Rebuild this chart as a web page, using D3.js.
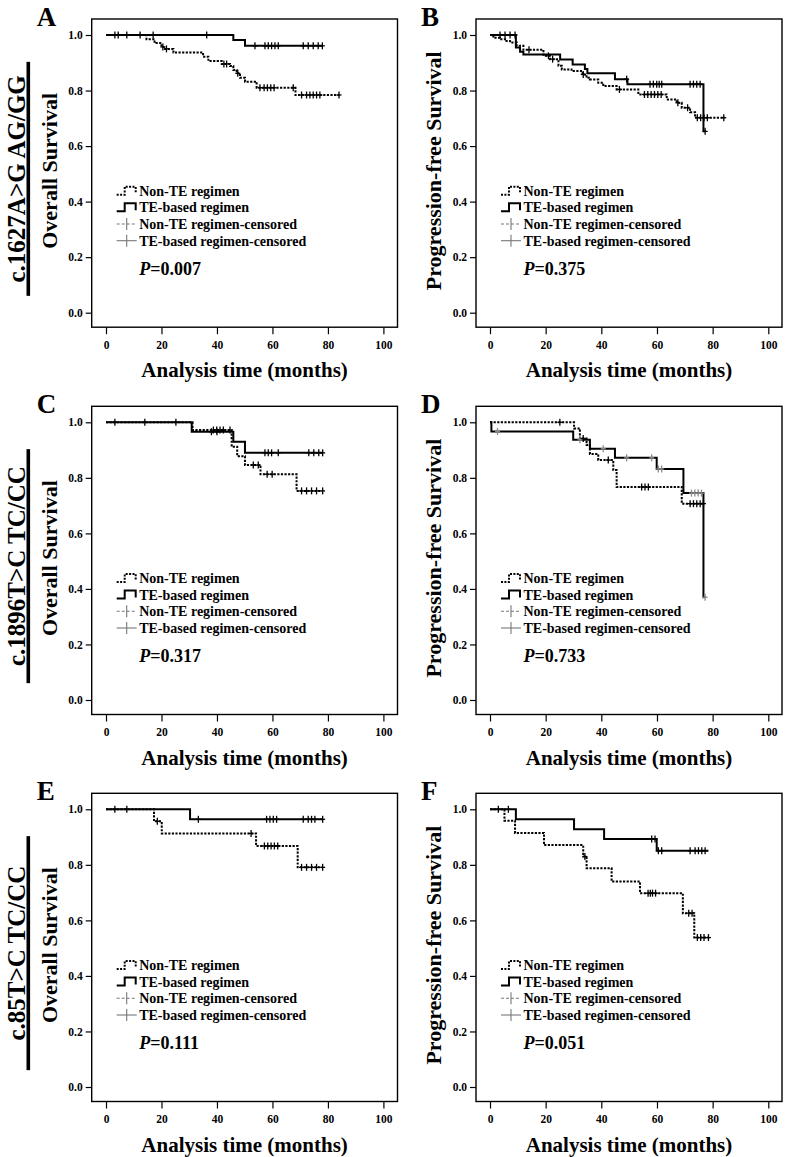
<!DOCTYPE html>
<html><head><meta charset="utf-8">
<script src="https://cdn.jsdelivr.net/npm/d3@7"></script>
<style>
body{margin:0;background:#fff}
svg{display:block}
text{font-family:"Liberation Serif","Times New Roman",serif;font-weight:bold;fill:#000}
</style>
</head><body>
<svg id="chart" width="785" height="1157"></svg>
<script>
// ---------- DATA ----------
const xTicks = [0, 20, 40, 60, 80, 100];
const yTicks = [0, 0.2, 0.4, 0.6, 0.8, 1.0];
const panelLetters = ["A", "B", "C", "D", "E", "F"];
const genotypes = ["c.1627A>G AG/GG", "c.1896T>C TC/CC", "c.85T>C TC/CC"];
const yTitles = ["Overall Survival", "Progression-free Survival"];
const xTitle = "Analysis time (months)";
const legendLabels = ["Non-TE regimen", "TE-based regimen", "Non-TE regimen-censored", "TE-based regimen-censored"];
const pValues = ["0.007", "0.375", "0.317", "0.733", "0.111", "0.051"];

// step curves: [time (months), survival after that time]
const A_nonTE = [[0,1],[14.6,0.985],[17.5,0.971],[20,0.957],[21.3,0.950],[24.3,0.937],[35,0.922],[36.9,0.906],[41.7,0.896],[44.7,0.888],[45.9,0.874],[47.1,0.862],[48.3,0.846],[50.1,0.832],[54.3,0.810],[68.3,0.784],[84,0.784]];
const A_TE = [[0,1],[45.9,0.982],[50.1,0.961],[78,0.961]];
const A_nonTE_cens = [20.5,21.8,42.5,43.5,47.5,55.5,57,58.2,59.4,60.6,67.5,70.5,72.3,73.5,74.7,75.9,77.1,84];
const A_TE_cens = [3.2,4.4,7.5,12.3,17,36.3,53.7,57.3,58.5,59.7,60.9,62.1,71.1,72.9,74.7,76.5,78];

const B_nonTE = [[0,1],[1.2,0.99],[3.6,0.985],[5.4,0.978],[7.2,0.973],[9.6,0.961],[12,0.947],[19.2,0.925],[21.6,0.913],[24.6,0.889],[25.8,0.876],[29.3,0.870],[33.3,0.858],[34.7,0.846],[35.9,0.840],[38.9,0.828],[40.7,0.816],[45.5,0.804],[53.3,0.786],[63.5,0.768],[67.1,0.756],[68.9,0.738],[71.9,0.722],[73.7,0.702],[84.2,0.702]];
const B_TE = [[0,1],[9.3,0.955],[10.8,0.94],[12,0.93],[25.2,0.912],[29.7,0.894],[34.1,0.878],[35,0.862],[44.9,0.841],[49.4,0.823],[76.7,0.653],[77.3,0.653]];
const B_nonTE_cens = [14,21,22.5,33.5,46.5,55.5,56.7,57.9,59.1,60.3,61.5,67.5,71,74.5,75.7,76.9,78.1,84];
const B_TE_cens = [3.6,5.4,7.2,9,49.1,57.5,58.7,59.9,60.8,61.7,71.9,73.1,74.3,75.5,77.3];

const C_nonTE = [[0,1],[31.2,0.972],[45.3,0.912],[47.3,0.878],[50.1,0.846],[55.7,0.813],[68.7,0.753],[78.1,0.753]];
const C_TE = [[0,1],[30.9,0.966],[45.9,0.930],[50.1,0.890],[78.1,0.890]];
const C_nonTE_cens = [38.7,39.9,41.1,42.3,44.7,53.1,54.9,58.1,59.9,70.5,72.3,74.1,75.9,78.1];
const C_TE_cens = [3.2,14,25.2,38,40,57.3,58.5,59.7,62.1,73.1,74.9,76.7,78.1];

const D_nonTE = [[0,1],[30.2,0.978],[32.3,0.942],[34.7,0.918],[35.9,0.886],[38.9,0.864],[44.3,0.828],[45.5,0.767],[68.9,0.707],[76.7,0.707]];
const D_TE = [[0,1],[0.5,0.967],[29.9,0.937],[35.9,0.905],[44.9,0.872],[59.9,0.832],[69.5,0.745],[76.7,0.37],[77.3,0.37]];
const D_nonTE_cens = [25.1,33.5,42.5,54.5,55.7,56.9,71.9,73.1,74.3,75.5,76.7];
const D_TE_cens = [2.7,32.3,40.7,49.1,58.1,60.5,61.7,72.4,73.6,74.8,76,77.3];

const E_nonTE = [[0,1],[17.3,0.957],[20.1,0.913],[54.1,0.868],[69.1,0.791],[78.1,0.791]];
const E_TE = [[0,1],[30.3,0.964],[78.1,0.964]];
const E_nonTE_cens = [18.5,52.3,57.1,58.3,59.5,60.7,61.9,70.5,72.3,74.1,75.9,78.1];
const E_TE_cens = [3.2,7.5,33.3,57.9,59.1,60.3,61.5,71.1,72.9,74.1,75.3,78.1];

const F_nonTE = [[0,1],[5.2,0.959],[9,0.915],[19.4,0.871],[33.5,0.83],[34.7,0.788],[43.7,0.74],[53.9,0.698],[69.3,0.626],[73.4,0.538],[78.5,0.538]];
const F_TE = [[0,1],[9.3,0.964],[30.2,0.928],[41,0.893],[59.9,0.851],[78.5,0.851]];
const F_nonTE_cens = [34.1,56.8,57.6,58.4,59.5,71.4,72.6,74.5,75.7,76.9,78.5];
const F_TE_cens = [3,6.6,58.1,59.3,60.5,61.7,71.9,73.7,74.9,76.1,77.3];

const panels = [
  {nonTE:A_nonTE, TE:A_TE, nc:A_nonTE_cens, tc:A_TE_cens},
  {nonTE:B_nonTE, TE:B_TE, nc:B_nonTE_cens, tc:B_TE_cens},
  {nonTE:C_nonTE, TE:C_TE, nc:C_nonTE_cens, tc:C_TE_cens},
  {nonTE:D_nonTE, TE:D_TE, nc:D_nonTE_cens, tc:D_TE_cens, greyTE:true},
  {nonTE:E_nonTE, TE:E_TE, nc:E_nonTE_cens, tc:E_TE_cens},
  {nonTE:F_nonTE, TE:F_TE, nc:F_nonTE_cens, tc:F_TE_cens}
];

// ---------- LAYOUT ----------
const svg = d3.select("#chart");
const cols = [
  {fx0:91.7, fx1:397.5, r0:106, r1:383.4},
  {fx0:476, fx1:782, r0:490, r1:768.3}
];
const rowOff = [0, 387.3, 774.3];

function survAt(steps, t){
  let s = steps[0][1];
  for (const d of steps){ if (d[0] <= t) s = d[1]; }
  return s;
}

panels.forEach((p, i) => {
  const c = cols[i % 2], r = Math.floor(i / 2), off = rowOff[r];
  const x = d3.scaleLinear().domain([0, 100]).range([c.r0, c.r1]);
  const y = d3.scaleLinear().domain([0, 1]).range([312.7 + off, 35 + off]);
  const fTop = y(1) - 16, fBot = y(0) + 14.5;
  const g = svg.append("g");

  // frame
  g.append("rect").attr("x", c.fx0).attr("y", fTop)
    .attr("width", c.fx1 - c.fx0).attr("height", fBot - fTop)
    .attr("fill", "none").attr("stroke", "#000").attr("stroke-width", 1.4);

  // axes
  const ya = g.append("g").attr("transform", `translate(${c.fx0},0)`)
    .call(d3.axisLeft(y).tickValues(yTicks).tickFormat(d3.format(".1f")).tickSize(6).tickPadding(3));
  const xa = g.append("g").attr("transform", `translate(0,${fBot})`)
    .call(d3.axisBottom(x).tickValues(xTicks).tickFormat(d3.format("d")).tickSize(7).tickPadding(4));
  [ya, xa].forEach(a => {
    a.select(".domain").remove();
    a.selectAll("line").attr("stroke", "#000").attr("stroke-width", 1.2);
    a.selectAll("text").style("font-family", '"Liberation Serif",serif')
      .style("font-weight", "bold").style("font-size", "11.5px").attr("fill", "#000");
  });
  xa.selectAll("text").attr("y", 21.6).attr("dy", 0);

  // curves
  const line = d3.line().x(d => x(d[0])).y(d => y(d[1])).curve(d3.curveStepAfter);
  g.append("path").datum(p.nonTE).attr("d", line).attr("fill", "none")
    .attr("stroke", "#000").attr("stroke-width", 2).attr("stroke-dasharray", "2.2,1.4");
  g.append("path").datum(p.TE).attr("d", line).attr("fill", "none")
    .attr("stroke", "#000").attr("stroke-width", 2);

  // censor marks
  function cens(times, steps, color){
    const cg = g.append("g").attr("stroke", color).attr("stroke-width", 1.3);
    cg.selectAll("line.v").data(times).join("line").attr("class", "v")
      .attr("x1", t => x(t)).attr("x2", t => x(t))
      .attr("y1", t => y(survAt(steps, t)) - 3.5).attr("y2", t => y(survAt(steps, t)) + 3.5);
    cg.selectAll("line.h").data(times).join("line").attr("class", "h")
      .attr("x1", t => x(t) - 2.5).attr("x2", t => x(t) + 2.5)
      .attr("y1", t => y(survAt(steps, t))).attr("y2", t => y(survAt(steps, t)));
  }
  cens(p.nc, p.nonTE, "#000");
  cens(p.tc, p.TE, p.greyTE ? "#8a8a8a" : "#000");

  // panel letter
  g.append("text").attr("x", c.fx0 - 55).attr("y", fTop + 7)
    .style("font-size", "27px").text(panelLetters[i]);

  // y title
  const yc = (y(1) + y(0)) / 2 - 3;
  g.append("text").attr("transform", `translate(${c.fx0 - 35},${yc}) rotate(-90)`)
    .attr("text-anchor", "middle").style("font-size", "22px").text(yTitles[i % 2]);

  // x title
  g.append("text").attr("x", (c.fx0 + c.fx1) / 2).attr("y", fBot + 50)
    .attr("text-anchor", "middle").style("font-size", "21px").text(xTitle);

  // legend
  const sx = c.fx0 + 25, tx = c.fx0 + 47.5;
  const lb = [117, 100.4, 83.7, 67].map(o => y(0) - o);
  legendLabels.forEach((lab, k) => {
    g.append("text").attr("x", tx).attr("y", lb[k]).style("font-size", "14px").text(lab);
  });
  const stepPath = (b) => `M${sx},${b - 1} H${sx + 8} V${b - 9} H${sx + 19} V${b - 2}`;
  g.append("path").attr("d", stepPath(lb[0])).attr("fill", "none").attr("stroke", "#000")
    .attr("stroke-width", 2).attr("stroke-dasharray", "2,1.4");
  g.append("path").attr("d", stepPath(lb[1])).attr("fill", "none").attr("stroke", "#000")
    .attr("stroke-width", 2);
  [2, 3].forEach(k => {
    const cy = lb[k] - 5;
    g.append("line").attr("x1", sx).attr("x2", sx + 20).attr("y1", cy).attr("y2", cy)
      .attr("stroke", "#777").attr("stroke-width", 1.1)
      .attr("stroke-dasharray", k === 2 ? "3,2" : null);
    g.append("line").attr("x1", sx + 10).attr("x2", sx + 10).attr("y1", cy - 6).attr("y2", cy + 6)
      .attr("stroke", "#777").attr("stroke-width", 1.1);
  });

  // P value
  const pt = g.append("text").attr("x", tx).attr("y", y(0) - 37.7).style("font-size", "18px");
  pt.append("tspan").style("font-style", "italic").text("P");
  pt.append("tspan").text("=" + pValues[i]);

  // genotype label
  if (i % 2 === 0) {
    const gc = (y(1) + y(0)) / 2 + 5;
    g.append("text").attr("transform", `translate(25,${gc}) rotate(-90)`)
      .attr("text-anchor", "middle").style("font-size", "25px").text(genotypes[r]);
    g.append("rect").attr("x", 26.5).attr("y", gc - 117).attr("width", 3.6).attr("height", 234)
      .attr("fill", "#000");
  }
});
</script>
</body></html>
